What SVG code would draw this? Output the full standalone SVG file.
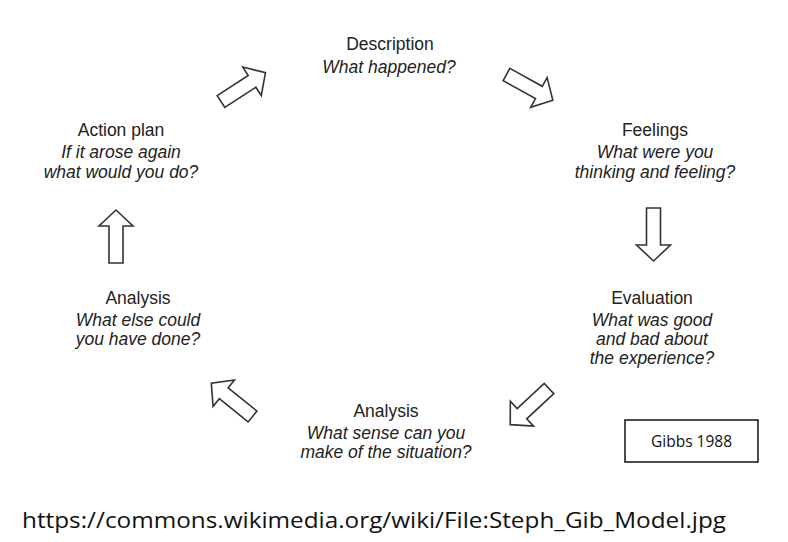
<svg xmlns="http://www.w3.org/2000/svg" width="788" height="542" viewBox="0 0 788 542">
<style>
.t{font-family:"Liberation Sans",Arial,sans-serif;font-size:17.5px;fill:#222;text-anchor:middle}
.i{font-style:italic}
.ar{fill:#fff;stroke:#333;stroke-width:1.6;stroke-linejoin:miter}
</style>
<defs>
<path id="arrow" d="M0,-7 L37,-7 L37,-17 L53,0 L37,17 L37,7 L0,7 Z"/>
</defs>
<rect width="788" height="542" fill="#fff"/>
<g id="connectors">
<use href="#arrow" class="ar" transform="translate(221,101.5) rotate(-33)"/>
<use href="#arrow" class="ar" transform="translate(506.5,74.5) rotate(29)"/>
<use href="#arrow" class="ar" transform="translate(653.5,208) rotate(90)"/>
<use href="#arrow" class="ar" transform="translate(549,388.5) rotate(137)"/>
<use href="#arrow" class="ar" transform="translate(252.5,416.5) rotate(219)"/>
<use href="#arrow" class="ar" transform="translate(116,263) rotate(-90)"/>
</g>
<g id="description">
<text class="t" x="390" y="50">Description</text>
<text class="t i" x="389" y="73">What happened?</text>
</g>
<g id="feelings">
<text class="t" x="655" y="136">Feelings</text>
<text class="t i" x="655" y="158">What were you</text>
<text class="t i" x="655" y="178">thinking and feeling?</text>
</g>
<g id="evaluation">
<text class="t" x="652" y="304">Evaluation</text>
<text class="t i" x="652" y="326">What was good</text>
<text class="t i" x="652" y="345">and bad about</text>
<text class="t i" x="652" y="364">the experience?</text>
</g>
<g id="analysis-bottom">
<text class="t" x="386" y="417">Analysis</text>
<text class="t i" x="386" y="439">What sense can you</text>
<text class="t i" x="386" y="458">make of the situation?</text>
</g>
<g id="analysis-left">
<text class="t" x="138" y="304">Analysis</text>
<text class="t i" x="138" y="326">What else could</text>
<text class="t i" x="138" y="345">you have done?</text>
</g>
<g id="action-plan">
<text class="t" x="121" y="136">Action plan</text>
<text class="t i" x="121" y="158">If it arose again</text>
<text class="t i" x="121" y="178">what would you do?</text>
</g>
<g id="gibbs">
<rect x="625" y="420" width="133" height="42" fill="#fff" stroke="#111" stroke-width="1.5"/>
<text x="691.5" y="447" font-family="'Open Sans','Liberation Sans',sans-serif" font-size="15.5" fill="#111" text-anchor="middle">Gibbs 1988</text>
</g>
<text x="22" y="528" font-family="'Open Sans','Liberation Sans',sans-serif" font-size="21" fill="#111" textLength="704" lengthAdjust="spacingAndGlyphs">https://commons.wikimedia.org/wiki/File:Steph_Gib_Model.jpg</text>
</svg>
